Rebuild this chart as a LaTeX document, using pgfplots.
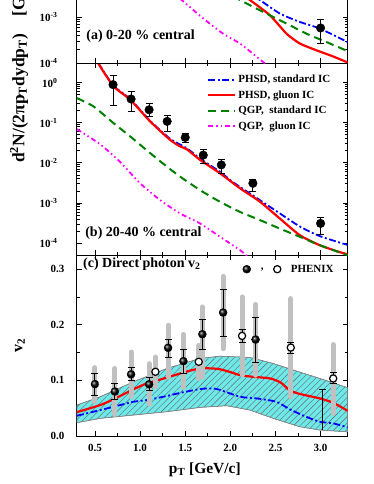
\documentclass[border=0pt]{standalone}
\usepackage{fontspec}
\setmainfont{Liberation Serif}
\usepackage{pgfplots}
\pgfplotsset{compat=1.18}
\usetikzlibrary{patterns.meta}

\definecolor{bandcyan}{RGB}{110,232,232}
\definecolor{mygreen}{RGB}{0,128,0}
\definecolor{myblue}{RGB}{0,0,255}
\definecolor{myred}{RGB}{255,0,0}
\definecolor{mymag}{RGB}{255,0,255}
\definecolor{syst}{RGB}{192,192,192}

\pgfplotsset{
  common/.style={
    scale only axis, width=271pt,
    xmin=0.3, xmax=3.3,
    xtick={0.5,1.0,1.5,2.0,2.5,3.0}, minor x tick num=1,
    tick align=inside,
    major tick length=5pt, minor tick length=3pt,
    every tick/.style={black, line width=0.8pt},
    axis line style={line width=1pt},
    tick label style={font=\fontsize{11}{12}\selectfont\bfseries},
    /pgf/number format/assume math mode=true,
  },
  phsdstd/.style={myblue, line width=1.8pt, dash pattern=on 7pt off 2.5pt on 2pt off 2.5pt},
  phsdglu/.style={myred, line width=2.2pt},
  qgpstd/.style={mygreen, line width=2pt, dash pattern=on 8pt off 5pt},
  qgpglu/.style={mymag, line width=1.8pt, dash pattern=on 5pt off 3pt on 1.5pt off 3pt on 1.5pt off 3pt},
}

\begin{document}
\begin{tikzpicture}
\path (0,0) rectangle (374pt,484pt);

% ---------------- bottom panel: v2 ----------------
\begin{axis}[common, at={(77pt,48pt)}, anchor=south west, height=181pt,
  ymin=0, ymax=0.325, ytick={0,0.1,0.2,0.3}, minor y tick num=1,
  yticklabel style={/pgf/number format/.cd, fixed, fixed zerofill, precision=1, /tikz/.cd, xshift=-9pt},
  xticklabel style={/pgf/number format/.cd, fixed, fixed zerofill, precision=1, /tikz/.cd, yshift=-5pt},
  legend style={draw=none, fill=none, at={(0.6,0.97)}, anchor=north west,
    legend columns=2, font=\fontsize{11}{12}\selectfont\bfseries,
    /tikz/every odd column/.append style={column sep=8pt},
    /tikz/every even column/.append style={column sep=8pt}},
]
% band
\addplot[forget plot, draw=gray, line width=0.5pt, fill=bandcyan,
  postaction={pattern={Lines[angle=45,distance=4.5pt,line width=0.4pt]}, pattern color=black!60}]
  coordinates {(0.3,0.0557) (0.558,0.0706) (0.926,0.0975) (1.296,0.1215) (1.666,0.1395) (1.886,0.1436)
   (2.217,0.1413) (2.475,0.1305) (2.70,0.1185) (2.99,0.1036) (3.3,0.087)
   (3.3,0.0075) (2.99,0.0108) (2.77,0.0167) (2.475,0.0318) (2.217,0.0467) (1.96,0.0545)
   (1.666,0.0515) (1.296,0.0437) (0.926,0.0377) (0.558,0.0318) (0.3,0.024) (0.3,0.0557)};
% PHSD gluon IC
\addplot[forget plot, phsdglu, smooth, tension=0.4] coordinates {(0.3,0.043) (0.558,0.0557) (0.705,0.066) (0.908,0.0826)
  (1.074,0.0946) (1.296,0.105) (1.517,0.116) (1.666,0.1215) (1.80,0.1215) (1.886,0.12) (2.0,0.115)
  (2.107,0.1095) (2.25,0.1065) (2.44,0.1036) (2.56,0.096) (2.65,0.083) (2.75,0.0765) (2.99,0.0677)
  (3.14,0.0598) (3.3,0.0454)};
% PHSD standard IC
\addplot[forget plot, phsdstd, smooth, tension=0.4] coordinates {(0.3,0.0365) (0.558,0.0467) (0.705,0.0526) (0.926,0.0616)
  (1.074,0.0646) (1.296,0.072) (1.443,0.0775) (1.666,0.0845) (1.80,0.0856) (1.886,0.083) (2.107,0.0706)
  (2.29,0.0677) (2.51,0.0616) (2.66,0.048) (2.84,0.0347) (2.99,0.0257) (3.14,0.0228) (3.3,0.0156)};
% systematic bars
\addplot[forget plot, only marks, mark=none, error bars/.cd, y dir=both, y explicit, error mark=none,
  error bar style={line width=5pt, syst, line cap=round}] coordinates {
  (0.5,0.0934) += (0,0.0296) -= (0,0.0318)
  (0.72,0.080) += (0,0.0415) -= (0,0.041)
  (0.9,0.111) += (0,0.04) -= (0,0.0404)
  (1.1,0.093) += (0,0.037) -= (0,0.036)
  (1.31,0.1586) += (0,0.0404) -= (0,0.0526)
  (1.48,0.1346) += (0,0.048) -= (0,0.0472)
  (1.69,0.183) += (0,0.049) -= (0,0.077)
  (1.92,0.222) += (0,0.065) -= (0,0.065)
  (2.28,0.1735) += (0,0.063) -= (0,0.064)
  (1.17,0.1155) += (0,0.0265) -= (0,0.027)
  (1.65,0.1335) += (0,0.0295) -= (0,0.03)
  (2.13,0.18) += (0,0.07) -= (0,0.0705)
  (2.67,0.159) += (0,0.088) -= (0,0.0884)
  (3.14,0.1035) += (0,0.061) -= (0,0.0628)
};
% black bar at 3.02
\addplot[forget plot, black, line width=1.6pt] coordinates {(3.02,0.0108) (3.02,0.0838)};
\addplot[forget plot, black, line width=1pt] coordinates {(2.98,0.0838) (3.06,0.0838)};
% filled points
\addplot[only marks, mark=ball, mark size=4pt, mark options={ball color=black}, black,
  error bars/.cd, y dir=both, y explicit, error bar style={line width=1pt, black},
  error mark options={rotate=90, line width=1pt, mark size=3.5pt, black}] coordinates {
  (0.5,0.0934) += (0,0.0192) -= (0,0.0198)
  (0.72,0.080) += (0,0.0146) -= (0,0.014)
  (0.9,0.111) += (0,0.013) -= (0,0.012)
  (1.1,0.093) += (0,0.0117) -= (0,0.012)
  (1.31,0.1586) += (0,0.0154) -= (0,0.0166)
  (1.48,0.1346) += (0,0.0214) -= (0,0.0221)
  (1.69,0.183) += (0,0.0265) -= (0,0.027)
  (1.92,0.222) += (0,0.042) -= (0,0.0425)
  (2.28,0.1735) += (0,0.039) -= (0,0.0415)
};
\addlegendentry{,}
% open points
\addplot[only marks, mark=*, mark size=3.6pt, mark options={fill=white, draw=black, line width=1.2pt}, black,
  error bars/.cd, y dir=both, y explicit, error bar style={line width=1pt, black},
  error mark options={rotate=90, line width=1pt, mark size=3.5pt, black}] coordinates {
  (1.17,0.1155) += (0,0) -= (0,0)
  (1.65,0.1335) += (0,0) -= (0,0)
  (2.13,0.18) += (0,0.0115) -= (0,0.0125)
  (2.67,0.159) += (0,0.01) -= (0,0.0105)
  (3.14,0.1035) += (0,0.0101) -= (0,0.0089)
};
\addlegendentry{PHENIX}
\node[anchor=west, font=\fontsize{14}{16}\selectfont\bfseries] at (rel axis cs:0.01,0.95) {(c) Direct photon v\textsubscript{2}};
\end{axis}

% ---------------- middle panel: 20-40% ----------------
\begin{axis}[common, at={(77pt,229pt)}, anchor=south west, height=192pt,
  ymode=log, ymin=5e-5, ymax=3,
  ytick={1e-4,1e-3,1e-2,1e-1,1},
  yticklabels={10\textsuperscript{-4},10\textsuperscript{-3},10\textsuperscript{-2},10\textsuperscript{-1},10\textsuperscript{0}},
  yticklabel style={xshift=-16pt},
  xticklabels={},
  legend style={draw=none, fill=none, at={(0.955,0.96)}, anchor=north east,
    font=\fontsize{11}{12}\selectfont\bfseries, row sep=2.3pt},
  legend cell align=left,
  legend image code/.code={\draw[#1] (0pt,0pt) -- (27pt,0pt);},
]
\addplot[phsdstd, smooth, tension=0.4] coordinates {(0.45,5.9) (0.54,3.0) (0.705,0.84) (0.89,0.39) (1.111,0.112)
  (1.332,0.040) (1.517,0.0232) (1.664,0.0128) (1.886,0.0060) (2.03,0.0033) (2.328,0.00118)
  (2.549,5.5e-4) (2.77,2.6e-4) (2.99,1.5e-4) (3.3,9.0e-5)};
\addlegendentry{PHSD, standard IC}
\addplot[phsdglu, smooth, tension=0.4] coordinates {(0.45,5.9) (0.539,2.93) (0.705,0.81) (0.89,0.376) (1.111,0.108)
  (1.332,0.0376) (1.443,0.0257) (1.517,0.0219) (1.664,0.0119) (1.886,0.0055) (2.107,0.00233)
  (2.328,0.00108) (2.549,4.1e-4) (2.77,1.58e-4) (2.99,8.9e-5) (3.21,6.0e-5) (3.3,5.3e-5)};
\addlegendentry{PHSD, gluon IC}
\addplot[qgpstd, smooth, tension=0.4] coordinates {(0.3,0.41) (0.484,0.255) (0.705,0.098) (0.89,0.0457) (1.092,0.019)
  (1.296,0.0081) (1.443,0.00455) (1.664,0.0021) (1.886,0.00107) (2.107,6.0e-4) (2.328,3.76e-4)
  (2.549,2.3e-4) (2.77,1.44e-4) (2.99,8.9e-5) (3.3,5.0e-5)};
\addlegendentry{QGP,\ \ standard IC}
\addplot[qgpglu, smooth, tension=0.4] coordinates {(0.3,0.069) (0.558,0.029) (0.779,0.0105) (1.0,0.0031)
  (1.221,0.00119) (1.443,5.5e-4) (1.664,3.1e-4) (1.886,1.44e-4) (2.107,6.7e-5) (2.2,4.5e-5)};
\addlegendentry{QGP,\ \ gluon IC}
\addplot[forget plot, only marks, mark=*, mark size=4.3pt, black,
  error bars/.cd, y dir=both, y explicit, error bar style={line width=1pt, black},
  error mark options={rotate=90, line width=1pt, mark size=3.5pt, black}] coordinates {
  (0.7,0.89) += (0,0.61) -= (0,0.62)
  (0.9,0.39) += (0,0.195) -= (0,0.204)
  (1.1,0.21) += (0,0.10) -= (0,0.07)
  (1.3,0.108) += (0,0.042) -= (0,0.048)
  (1.5,0.043) += (0,0.010) -= (0,0.011)
  (1.7,0.0156) += (0,0.0054) -= (0,0.0058)
  (1.9,0.0089) += (0,0.0034) -= (0,0.0034)
  (2.25,0.0031) += (0,0.0008) -= (0,0.0012)
  (3.0,3.1e-4) += (0,1.3e-4) -= (0,1.43e-4)
};
\node[anchor=west, font=\fontsize{14}{16}\selectfont\bfseries] at (rel axis cs:0.018,0.115) {(b) 20-40 \% central};
\end{axis}

% ---------------- top panel: 0-20% (cut at the top) ----------------
\begin{axis}[common, at={(77pt,421pt)}, anchor=south west, height=63pt,
  axis x line*=bottom, axis y line*=box,
  ymode=log, ymin=1e-4, ymax=2.3e-3,
  ytick={1e-4,1e-3},
  yticklabels={10\textsuperscript{-4},10\textsuperscript{-3}},
  yticklabel style={xshift=-16pt},
  xticklabels={},
]
\addplot[phsdstd, smooth, tension=0.4] coordinates {(2.1,4.7e-3) (2.328,2.35e-3) (2.549,1.2e-3) (2.77,7.9e-4)
  (2.99,5.7e-4) (3.3,2.9e-4)};
\addplot[phsdglu, smooth, tension=0.4] coordinates {(2.0,4.9e-3) (2.218,2.35e-3) (2.439,1.1e-3) (2.623,4.4e-4)
  (2.77,2.7e-4) (2.955,1.92e-4) (3.138,1.42e-4) (3.3,1.05e-4)};
\addplot[qgpstd, smooth, tension=0.4] coordinates {(1.9,3.8e-3) (2.107,2.35e-3) (2.254,1.67e-3) (2.4,1.2e-3)
  (2.623,7.3e-4) (2.844,4.4e-4) (3.065,2.9e-4) (3.3,1.85e-4)};
\addplot[qgpglu, smooth, tension=0.4] coordinates {(1.3,4.4e-3) (1.461,2.35e-3) (1.70,9.4e-4) (1.92,4.4e-4)
  (2.107,2.7e-4) (2.254,1.6e-4) (2.383,1.0e-4) (2.45,8e-5)};
\addplot[only marks, mark=*, mark size=4.3pt, black,
  error bars/.cd, y dir=both, y explicit, error bar style={line width=1pt, black},
  error mark options={rotate=90, line width=1pt, mark size=3.5pt, black}] coordinates {
  (3.0,5.85e-4) += (0,3.2e-4) -= (0,3.15e-4)
};
\node[anchor=west, font=\fontsize{14}{16}\selectfont\bfseries] at (rel axis cs:0.022,0.44) {(a) 0-20 \% central};
\end{axis}

% axis titles
\node[overlay, rotate=90, anchor=west, font=\fontsize{17.5}{19}\selectfont\bfseries] at (19pt,318pt)
  {d\textsuperscript{2}N/(2πp\textsubscript{T}dydp\textsubscript{T})\quad[GeV\textsuperscript{-2}]};
\node[rotate=90, font=\fontsize{16}{18}\selectfont\bfseries] at (20pt,139pt) {v\textsubscript{2}};
\node[font=\fontsize{15.5}{18}\selectfont\bfseries] at (205pt,14pt) {p\textsubscript{T} [GeV/c]};

\end{tikzpicture}
\end{document}
